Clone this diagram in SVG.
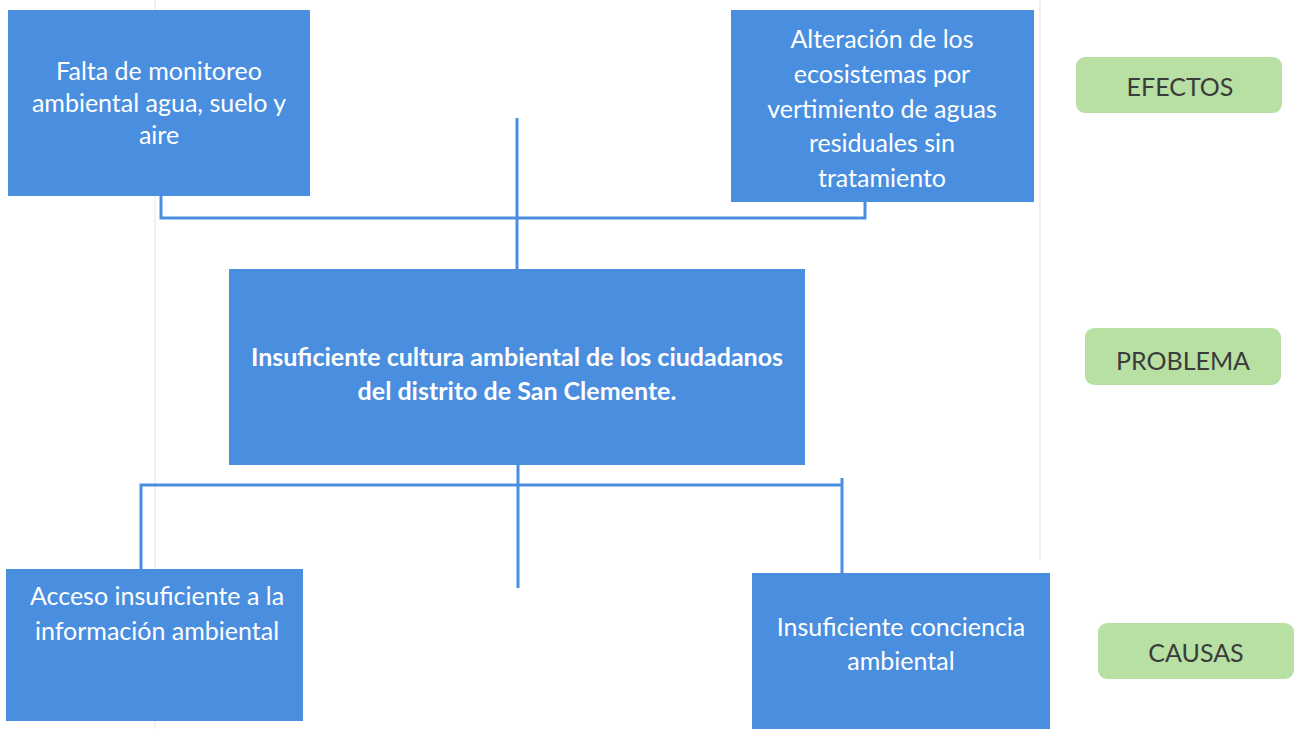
<svg xmlns="http://www.w3.org/2000/svg" width="1297" height="729" viewBox="0 0 1297 729">
<style>
.box{fill:#4a8ee0}
.tag{fill:#b7e0a2}
.t{font-family:"Lato","Open Sans",sans-serif;font-size:25px;fill:#ffffff;text-anchor:middle;dominant-baseline:central}
.b{font-weight:bold}
.g{font-family:"Lato","Open Sans",sans-serif;font-size:25px;fill:#3b3b3b;text-anchor:middle;dominant-baseline:central}
.c{stroke:#4a8ee0;stroke-width:3;fill:none}
</style>
<rect x="0" y="0" width="1297" height="729" fill="#ffffff"/>
<g id="scan" stroke="#ececec" stroke-width="1.5">
<line x1="155" y1="0" x2="155" y2="729"/>
<line x1="1040" y1="0" x2="1040" y2="560"/>
</g>
<g id="connectors">
<path class="c" d="M517 118 V269 M161 196 V218 H865 V202"/>
<path class="c" d="M518 465 V588 M141 569 V485 H842 M842 478 V573"/>
</g>
<g id="effect1">
<rect class="box" x="8" y="10" width="302" height="186"/>
<text class="t" x="159" y="70">Falta de monitoreo</text>
<text class="t" x="159" y="102">ambiental agua, suelo y</text>
<text class="t" x="159" y="134">aire</text>
</g>
<g id="effect2">
<rect class="box" x="731" y="10" width="303" height="192"/>
<text class="t" x="882" y="38">Alteración de los</text>
<text class="t" x="882" y="73">ecosistemas por</text>
<text class="t" x="882" y="108">vertimiento de aguas</text>
<text class="t" x="882" y="142">residuales sin</text>
<text class="t" x="882" y="177">tratamiento</text>
</g>
<g id="problem">
<rect class="box" x="229" y="269" width="576" height="196"/>
<text class="t b" x="517" y="356">Insuficiente cultura ambiental de los ciudadanos</text>
<text class="t b" x="517" y="390">del distrito de San Clemente.</text>
</g>
<g id="cause1">
<rect class="box" x="6" y="569" width="297" height="152"/>
<text class="t" x="157" y="595">Acceso insuficiente a la</text>
<text class="t" x="157" y="630">información ambiental</text>
</g>
<g id="cause2">
<rect class="box" x="752" y="573" width="298" height="156"/>
<text class="t" x="901" y="626">Insuficiente conciencia</text>
<text class="t" x="901" y="660">ambiental</text>
</g>
<g id="label-efectos">
<rect class="tag" x="1076" y="57" width="206" height="56" rx="9"/>
<text class="g" x="1180" y="86">EFECTOS</text>
</g>
<g id="label-problema">
<rect class="tag" x="1085" y="328" width="196" height="57" rx="9"/>
<text class="g" x="1183" y="360">PROBLEMA</text>
</g>
<g id="label-causas">
<rect class="tag" x="1098" y="623" width="196" height="56" rx="9"/>
<text class="g" x="1196" y="652">CAUSAS</text>
</g>
</svg>
